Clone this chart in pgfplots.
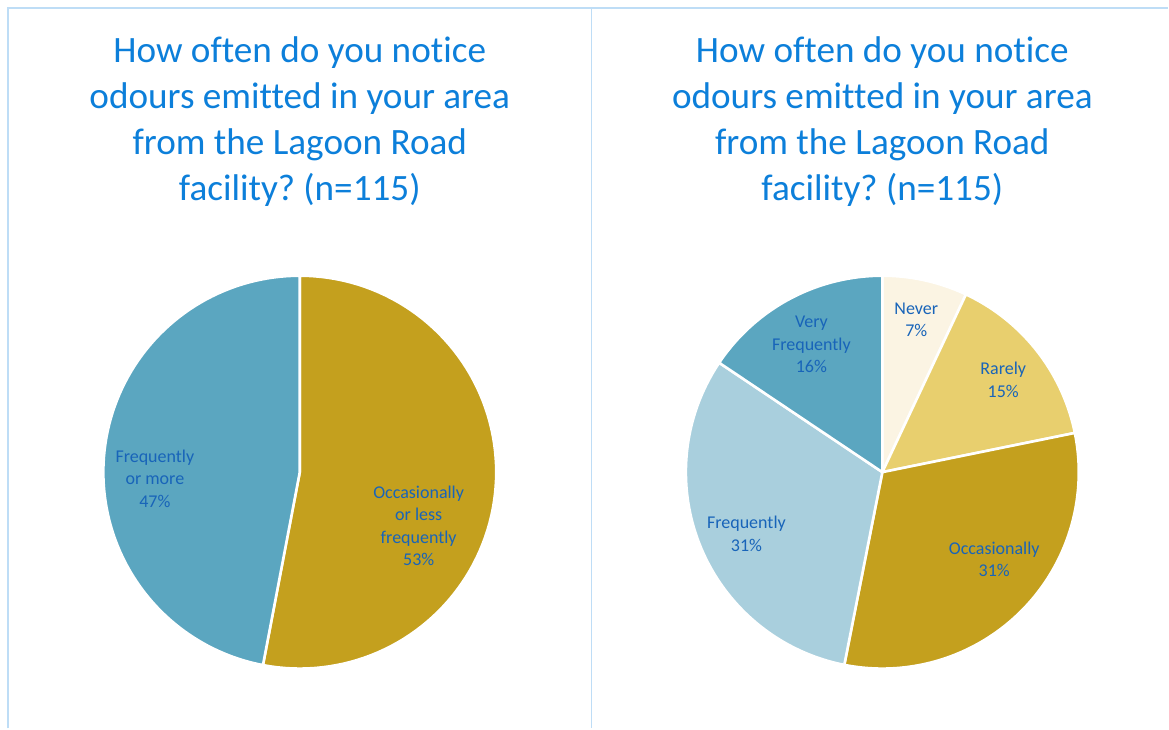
\documentclass[border=0pt]{standalone}
\usepackage{fontspec}
\setmainfont{Carlito}[Ligatures=NoCommon]
\usepackage{xcolor}
\definecolor{steelb}{RGB}{91,166,192}
\definecolor{gold}{RGB}{196,160,30}
\definecolor{cream}{RGB}{251,244,227}
\definecolor{sand}{RGB}{232,207,110}
\definecolor{paleb}{RGB}{169,207,221}
\definecolor{ttl}{RGB}{12,127,218}
\definecolor{lbl}{RGB}{24,100,185}
\definecolor{frame}{RGB}{190,221,246}
\usepackage{pgfplots}
\pgfplotsset{compat=1.18}

%% one pie slice: start share (%), share (%), colour; clockwise from 12 o'clock
\newcommand\slice[3]{%
  \pgfmathsetmacro\slA{90-3.6*#1}%
  \pgfmathsetmacro\slB{90-3.6*(#1+#2)}%
  \edef\sltmp{\noexpand\addplot[fill=#3, draw=white, line width=1.3pt,
    line join=round, domain=\slB:\slA, samples=90]
    ({cos(x)},{sin(x)}) -- (axis cs:0,0) -- cycle;}\sltmp}

\pgfplotsset{
  pie/.style={
    hide axis, anchor=origin, x=98.3pt, y=98.3pt,
    xmin=-1.1, xmax=1.1, ymin=-1.1, ymax=1.1, clip=false,
  },
}
\newcommand\ttlfont{\fontsize{18.6}{23}\selectfont}
\newcommand\lblfont{\fontsize{9}{11.25}\selectfont}

\begin{document}
\frenchspacing
\begin{tikzpicture}
\fill[white] (0pt,0pt) rectangle (584.5pt,-364.5pt);

%% left pie: Occasionally or less 53 %, Frequently or more 47 %
\begin{axis}[pie, at={(150pt,-236.25pt)}]
\slice{0}{53.0}{gold}
\slice{53.0}{47.0}{steelb}
\end{axis}

%% right pie: Never, Rarely, Occasionally, Frequently, Very frequently
\begin{axis}[pie, at={(441.5pt,-236.25pt)}]
\slice{0}{7.0}{cream}
\slice{7.0}{14.8}{sand}
\slice{21.8}{31.3}{gold}
\slice{53.1}{31.3}{paleb}
\slice{84.4}{15.6}{steelb}
\end{axis}

\begin{scope}[x=0.5pt,y=-0.5pt]
%% panel frames
\draw[frame, line width=0.9pt] (8,729) -- (8,8) -- (1169,8);
\draw[frame, line width=0.9pt] (592,8) -- (592,729);

%% titles
\node[align=center, text=ttl, font=\ttlfont] at (300,122)
  {How often do you notice\\odours emitted in your area\\from the Lagoon Road\\facility? (n=115)};
\node[align=center, text=ttl, font=\ttlfont] at (883,122)
  {How often do you notice\\odours emitted in your area\\from the Lagoon Road\\facility? (n=115)};

%% data labels
\begin{scope}[every node/.style={align=center, text=lbl, font=\lblfont}]
\node at (155,479) {Frequently\\or more\\47\%};
\node at (419,526) {Occasionally\\or less\\frequently\\53\%};
\node at (917,320) {Never\\7\%};
\node at (1004,380) {Rarely\\15\%};
\node at (812,345) {Very\\Frequently\\16\%};
\node at (747,534) {Frequently\\31\%};
\node at (995,560) {Occasionally\\31\%};
\end{scope}
\end{scope}
\end{tikzpicture}
\end{document}
